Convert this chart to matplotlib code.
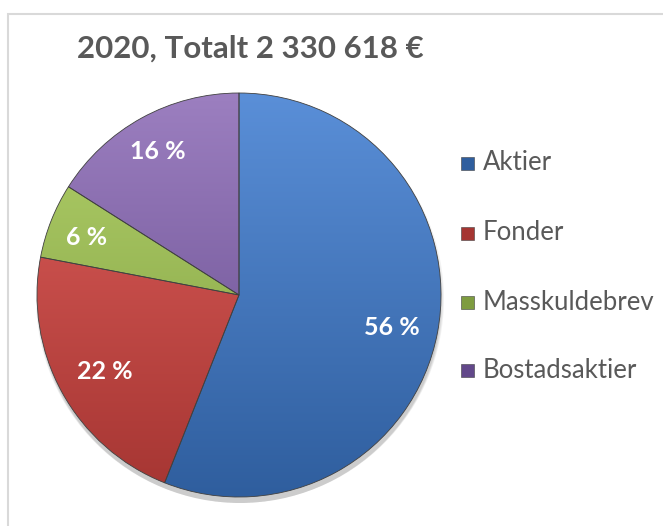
import matplotlib.pyplot as plt
import numpy as np
from matplotlib.colors import LinearSegmentedColormap
from matplotlib.patches import Rectangle, Circle

labels = ['Aktier', 'Fonder', 'Masskuldebrev', 'Bostadsaktier']
shares = [56, 22, 6, 16]
pct_labels = ['56 %', '22 %', '6 %', '16 %']
title = '2020, Totalt 2 330 618 €'

light = ['#5A8FD8', '#E0605C', '#B2D16A', '#9C7FC0']
dark = ['#2F5E9E', '#A53532', '#7E9C40', '#62488A']

W, H = 663, 526
fig = plt.figure(figsize=(W / 100, H / 100), dpi=100)
ax = fig.add_axes([0, 0, 1, 1])

cx, cy, r = 239, H - 295, 202

wedges, _ = ax.pie(shares, startangle=90, counterclock=False, center=(cx, cy), radius=r,
                   colors=light, wedgeprops=dict(ec='#404040', lw=0.6))
for w in wedges:
    w.set_zorder(2)

# soft shadow
for i, a in enumerate([0.05, 0.05, 0.05, 0.06]):
    ax.add_patch(Circle((cx + 1, cy - 4 - i), r + 2 - i, color='black', alpha=a, lw=0, zorder=1))

# chart frame
ax.add_patch(Rectangle((8, -10), W, H - 14 + 10, fill=False, ec='#D9D9D9', lw=1.5))

# gradient fills
yy = np.linspace(0, 1, 256).reshape(-1, 1)
for w, c1, c2 in zip(wedges, light, dark):
    cmap = LinearSegmentedColormap.from_list('g', [c2, c1])
    im = ax.imshow(yy, cmap=cmap, origin='lower', aspect='auto',
                   extent=(cx - r, cx + r, cy - r, cy + r), zorder=3)
    im.set_clip_path(w)
    w.set_facecolor('none')
    w.set_zorder(4)

# percentage labels
mid_r = [0.77, 0.76, 0.81, 0.83]
for w, t, k in zip(wedges, pct_labels, mid_r):
    theta = np.deg2rad((w.theta1 + w.theta2) / 2)
    x = cx + k * r * np.cos(theta)
    y = cy + k * r * np.sin(theta) - 3
    ax.text(x, y, t, color='white', fontsize=18, fontweight='bold', family='Lato',
            ha='center', va='center', zorder=5)

ax.text(250, H - 49, title, fontsize=22.5, fontweight='bold', family='Lato',
        color='#595959', ha='center', va='center')

# legend
ly = [163, 233, 302, 370]
for lab, c1, c2, y in zip(labels, light, dark, ly):
    ax.add_patch(Rectangle((461, H - y - 7), 13, 13, fc=c2, ec='#404040', lw=0.4))
    ax.text(483, H - y, lab, fontsize=18.5, family='Lato', color='#595959',
            ha='left', va='center')

ax.set_xlim(0, W)
ax.set_ylim(0, H)
ax.set_aspect('equal')
ax.axis('off')

fig.savefig('out.png', dpi=100)
